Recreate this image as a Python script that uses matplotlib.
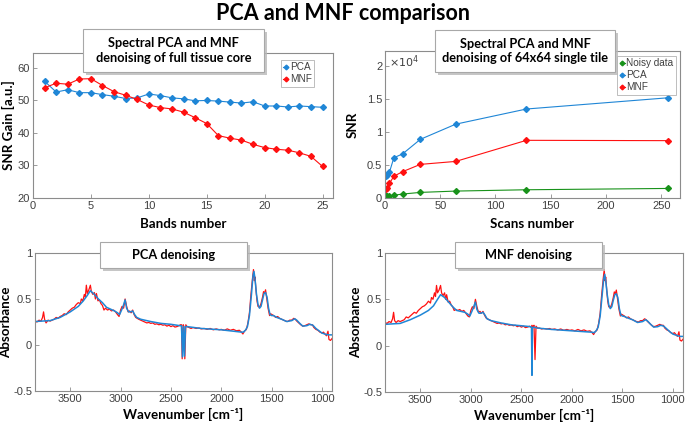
import matplotlib
matplotlib.use("Agg")
import matplotlib.pyplot as plt
from matplotlib.patches import Rectangle
from matplotlib.ticker import FuncFormatter, MultipleLocator

# ---------------- data ----------------
bands = list(range(1, 26))
pca_gain = [55.9, 52.6, 53.3, 52.4, 52.4, 51.8, 51.3, 50.6, 50.8, 52.0, 51.5, 50.8, 50.5, 49.9,
            50.0, 49.8, 49.5, 49.2, 49.6, 48.3, 48.3, 48.0, 48.3, 48.1, 47.9]
mnf_gain = [53.9, 55.3, 55.0, 56.6, 56.7, 54.6, 52.7, 51.6, 50.3, 48.6, 47.8, 47.4, 46.4, 44.7,
            42.9, 39.2, 38.4, 37.8, 36.5, 35.5, 35.0, 34.7, 33.9, 32.8, 29.7]

scans = [1, 2, 4, 8, 16, 32, 64, 128, 256]
snr_noisy = [250, 280, 320, 420, 600, 850, 1050, 1250, 1450]
snr_pca = [3300, 3500, 3900, 6100, 6700, 8900, 11200, 13500, 15200]
snr_mnf = [1350, 1550, 2200, 3300, 4000, 5100, 5550, 8750, 8700]

# PCA denoising panel
wn_pca_blue = [3850, 3780, 3700, 3600, 3500, 3420, 3370, 3330, 3300, 3260, 3220, 3180, 3140, 3100,
               3060, 3030, 3010, 2990, 2975, 2955, 2940, 2920, 2900, 2880, 2860, 2840, 2800, 2700,
               2600, 2500, 2410, 2395, 2385, 2375, 2365, 2355, 2340, 2200, 2000, 1800, 1780,
               1760, 1740, 1720, 1700, 1685, 1675, 1665, 1650, 1635, 1620, 1605, 1590, 1575,
               1560, 1545, 1530, 1515, 1500, 1480, 1450, 1400, 1350, 1300, 1270, 1250, 1220,
               1190, 1150, 1120, 1090, 1060, 1030, 1000, 960, 930, 900]
ab_pca_blue = [0.255, 0.26, 0.265, 0.30, 0.36, 0.42, 0.48, 0.54, 0.59, 0.55, 0.50, 0.46, 0.41, 0.39,
               0.37, 0.35, 0.33, 0.38, 0.42, 0.49, 0.40, 0.36, 0.36, 0.37, 0.33, 0.30, 0.28, 0.255,
               0.235, 0.225, 0.21, 0.21, -0.13, 0.20, -0.12, 0.20, 0.20, 0.18, 0.165, 0.14, 0.14,
               0.16, 0.20, 0.32, 0.55, 0.75, 0.80, 0.72, 0.55, 0.44, 0.40, 0.42, 0.49, 0.56,
               0.57, 0.52, 0.40, 0.33, 0.32, 0.32, 0.30, 0.28, 0.255, 0.265, 0.285, 0.27, 0.235,
               0.205, 0.21, 0.225, 0.215, 0.18, 0.155, 0.13, 0.115, 0.11, 0.11]
wn_pca_red = [3850, 3830, 3810, 3790, 3775, 3765, 3755, 3740, 3720, 3700, 3680, 3660, 3640, 3620,
              3600, 3580, 3560, 3540, 3520, 3500, 3480, 3460, 3440, 3420, 3400, 3390, 3375, 3360,
              3350, 3340, 3330, 3315, 3300, 3290, 3275, 3260, 3250, 3240, 3225, 3210, 3195, 3180,
              3165, 3150, 3130, 3110, 3090, 3070, 3050, 3030, 3015, 3000, 2985, 2970, 2955, 2940,
              2925, 2910, 2895, 2880, 2865, 2850, 2820, 2800, 2780, 2760, 2740, 2720, 2700, 2680,
              2660, 2640, 2620, 2600, 2580, 2560, 2540, 2520, 2500, 2480, 2460, 2440, 2420, 2405,
              2395, 2388, 2378, 2370, 2362, 2352, 2340, 2320, 2300, 2280, 2250, 2220, 2200, 2170,
              2140, 2110, 2080, 2050, 2020, 2000, 1970, 1940, 1910, 1880, 1850, 1820, 1800, 1785,
              1770, 1750, 1735, 1720, 1705, 1690, 1680, 1672, 1665, 1655, 1645, 1635, 1620, 1605,
              1590, 1580, 1570, 1560, 1550, 1535, 1520, 1510, 1495, 1480, 1460, 1440, 1420, 1400,
              1380, 1360, 1340, 1320, 1300, 1280, 1265, 1250, 1230, 1210, 1190, 1170, 1150, 1130,
              1110, 1095, 1080, 1060, 1040, 1020, 1000, 985, 970, 955, 940, 930, 915, 900]
ab_pca_red = [0.26, 0.25, 0.27, 0.26, 0.30, 0.36, 0.28, 0.24, 0.27, 0.26, 0.27, 0.28, 0.30, 0.29,
              0.31, 0.32, 0.34, 0.33, 0.36, 0.38, 0.40, 0.41, 0.44, 0.46, 0.45, 0.50, 0.48, 0.55,
              0.52, 0.65, 0.56, 0.60, 0.65, 0.58, 0.55, 0.57, 0.50, 0.56, 0.48, 0.49, 0.45, 0.43,
              0.38, 0.40, 0.38, 0.39, 0.37, 0.38, 0.36, 0.33, 0.31, 0.38, 0.42, 0.40, 0.50, 0.42,
              0.36, 0.37, 0.35, 0.38, 0.33, 0.30, 0.28, 0.27, 0.26, 0.25, 0.24, 0.245, 0.235, 0.24,
              0.225, 0.23, 0.22, 0.225, 0.215, 0.22, 0.205, 0.215, 0.20, 0.21, 0.195, 0.20, 0.21, 0.22,
              0.22, -0.15, 0.22, 0.20, -0.15, 0.22, 0.20, 0.19, 0.18, 0.19, 0.18, 0.185, 0.175, 0.18,
              0.17, 0.18, 0.165, 0.175, 0.165, 0.17, 0.16, 0.175, 0.16, 0.17, 0.155, 0.16, 0.14, 0.12,
              0.15, 0.17, 0.24, 0.35, 0.55, 0.72, 0.82, 0.70, 0.74, 0.60, 0.48, 0.42, 0.41, 0.45,
              0.52, 0.58, 0.56, 0.60, 0.52, 0.40, 0.32, 0.34, 0.33, 0.32, 0.30, 0.31, 0.29, 0.28,
              0.27, 0.26, 0.255, 0.27, 0.27, 0.29, 0.28, 0.26, 0.24, 0.22, 0.205, 0.21, 0.22, 0.23,
              0.22, 0.22, 0.19, 0.17, 0.16, 0.14, 0.13, 0.14, 0.12, 0.10, 0.15, 0.06, 0.05, 0.07]

# MNF denoising panel
wn_mnf_blue = [3850, 3780, 3700, 3600, 3500, 3420, 3370, 3330, 3300, 3260, 3220, 3180, 3140, 3100,
               3060, 3030, 3010, 2990, 2975, 2955, 2940, 2920, 2900, 2880, 2860, 2840, 2800, 2700,
               2600, 2500, 2410, 2400, 2395, 2390, 2380, 2340, 2200, 2000, 1800, 1780,
               1760, 1740, 1720, 1700, 1685, 1675, 1665, 1650, 1635, 1620, 1605, 1590, 1575,
               1560, 1545, 1530, 1515, 1500, 1480, 1450, 1400, 1350, 1300, 1270, 1250, 1220,
               1190, 1150, 1120, 1090, 1060, 1030, 1000, 960, 930, 900]
ab_mnf_blue = [0.23, 0.235, 0.24, 0.28, 0.33, 0.38, 0.43, 0.50, 0.55, 0.52, 0.47, 0.42, 0.38, 0.37,
               0.36, 0.34, 0.32, 0.37, 0.41, 0.47, 0.39, 0.35, 0.35, 0.36, 0.33, 0.29, 0.27, 0.245,
               0.225, 0.215, 0.205, 0.20, -0.32, 0.19, 0.20, 0.19, 0.175, 0.16, 0.145, 0.14,
               0.16, 0.20, 0.32, 0.55, 0.72, 0.77, 0.70, 0.55, 0.44, 0.40, 0.42, 0.49, 0.55,
               0.56, 0.52, 0.40, 0.33, 0.32, 0.315, 0.30, 0.28, 0.25, 0.26, 0.28, 0.265, 0.23,
               0.20, 0.205, 0.22, 0.21, 0.18, 0.15, 0.125, 0.11, 0.10, 0.10]
wn_mnf_red = [3850, 3830, 3810, 3790, 3775, 3765, 3755, 3740, 3720, 3700, 3680, 3660, 3640, 3620,
              3600, 3580, 3560, 3540, 3520, 3500, 3480, 3460, 3440, 3420, 3400, 3390, 3375, 3360,
              3350, 3340, 3330, 3315, 3300, 3290, 3275, 3260, 3250, 3240, 3225, 3210, 3195, 3180,
              3165, 3150, 3130, 3110, 3090, 3070, 3050, 3030, 3015, 3000, 2985, 2970, 2955, 2940,
              2925, 2910, 2895, 2880, 2865, 2850, 2820, 2800, 2780, 2760, 2740, 2720, 2700, 2680,
              2660, 2640, 2620, 2600, 2580, 2560, 2540, 2520, 2500, 2480, 2460, 2440, 2420, 2405,
              2395, 2385, 2375, 2365, 2355, 2340, 2320, 2300, 2280, 2250, 2220, 2200, 2170,
              2140, 2110, 2080, 2050, 2020, 2000, 1970, 1940, 1910, 1880, 1850, 1820, 1800, 1785,
              1770, 1750, 1735, 1720, 1705, 1690, 1680, 1672, 1665, 1655, 1645, 1635, 1620, 1605,
              1590, 1580, 1570, 1560, 1550, 1535, 1520, 1510, 1495, 1480, 1460, 1440, 1420, 1400,
              1380, 1360, 1340, 1320, 1300, 1280, 1265, 1250, 1230, 1210, 1190, 1170, 1150, 1130,
              1110, 1095, 1080, 1060, 1040, 1020, 1000, 985, 970, 955, 940, 930, 915, 900]
ab_mnf_red = [0.25, 0.24, 0.26, 0.25, 0.29, 0.36, 0.27, 0.25, 0.27, 0.26, 0.27, 0.28, 0.31, 0.30,
              0.32, 0.34, 0.36, 0.35, 0.38, 0.40, 0.42, 0.43, 0.45, 0.48, 0.46, 0.52, 0.50, 0.57,
              0.53, 0.65, 0.57, 0.60, 0.65, 0.57, 0.54, 0.57, 0.50, 0.55, 0.47, 0.48, 0.44, 0.42,
              0.38, 0.39, 0.38, 0.39, 0.37, 0.38, 0.35, 0.32, 0.31, 0.38, 0.42, 0.40, 0.50, 0.42,
              0.36, 0.37, 0.35, 0.37, 0.33, 0.30, 0.28, 0.27, 0.26, 0.25, 0.24, 0.245, 0.235, 0.24,
              0.225, 0.23, 0.22, 0.225, 0.215, 0.22, 0.205, 0.215, 0.20, 0.21, 0.195, 0.20, 0.21, 0.20,
              0.22, 0.20, 0.22, -0.15, 0.21, 0.19, 0.19, 0.18, 0.185, 0.18, 0.185, 0.175, 0.18,
              0.17, 0.18, 0.165, 0.175, 0.165, 0.17, 0.16, 0.175, 0.16, 0.17, 0.155, 0.16, 0.14, 0.12,
              0.15, 0.17, 0.24, 0.35, 0.55, 0.72, 0.82, 0.70, 0.74, 0.60, 0.48, 0.42, 0.41, 0.45,
              0.52, 0.58, 0.56, 0.60, 0.52, 0.40, 0.32, 0.34, 0.33, 0.32, 0.30, 0.31, 0.29, 0.28,
              0.27, 0.26, 0.255, 0.27, 0.27, 0.29, 0.28, 0.26, 0.24, 0.22, 0.205, 0.21, 0.22, 0.23,
              0.22, 0.22, 0.19, 0.17, 0.16, 0.14, 0.13, 0.14, 0.12, 0.10, 0.15, 0.06, 0.05, 0.07]

# ---------------- style ----------------
BLUE = "#1f86d6"
RED = "#ff1010"
GREEN = "#18921a"
TICKC = "#404040"
SPINE = "#8c8c8c"
LBL = ["Lato", "DejaVu Sans"]
TK = ["Liberation Sans", "DejaVu Sans"]
LFS = 9.6

W, H = 685, 428
fig = plt.figure(figsize=(W / 100, H / 100), dpi=100)


def ax_at(l, t, r, b):
    return fig.add_axes([l / W, 1 - b / H, (r - l) / W, (b - t) / H])


def style(ax):
    for s in ax.spines.values():
        s.set_color(SPINE)
        s.set_linewidth(0.8)
    ax.tick_params(direction="in", length=3, width=0.6, color=SPINE, labelcolor=TICKC,
                   labelsize=8, pad=2)
    for lab in ax.get_xticklabels() + ax.get_yticklabels():
        lab.set_family(TK)


def box(x0, y0, x1, y1, lines, fs=9.2):
    shadow = Rectangle(((x0 + 3) / W, 1 - (y1 + 3) / H), (x1 - x0) / W, (y1 - y0) / H,
                       transform=fig.transFigure, facecolor="#b8b8b8", edgecolor="none",
                       alpha=0.8, zorder=5)
    rect = Rectangle((x0 / W, 1 - y1 / H), (x1 - x0) / W, (y1 - y0) / H,
                     transform=fig.transFigure, facecolor="white", edgecolor="#a8a8a8",
                     linewidth=0.8, zorder=6)
    fig.add_artist(shadow)
    fig.add_artist(rect)
    fig.text((x0 + x1) / 2 / W, 1 - (y0 + y1) / 2 / H, lines, ha="center", va="center",
             fontsize=fs, fontweight="bold", family=LBL, zorder=7, linespacing=1.25)


def legend(ax, anchor):
    leg = ax.legend(loc="upper right", bbox_to_anchor=anchor,
                    prop={"family": TK, "size": 7.2}, frameon=True, fancybox=False,
                    handlelength=0.5, handletextpad=0.15, borderpad=0.25, labelspacing=0.2,
                    borderaxespad=0, markerscale=0.8)
    leg.get_frame().set_edgecolor("#a0a0a0")
    leg.get_frame().set_linewidth(0.6)
    for t in leg.get_texts():
        t.set_color(TICKC)


# ---- top left ----
ax1 = ax_at(33, 53, 333, 198)
ax1.plot(bands, pca_gain, "-D", color=BLUE, markersize=3.0, linewidth=0.8, label="PCA")
ax1.plot(bands, mnf_gain, "-D", color=RED, markersize=3.0, linewidth=0.8, label="MNF")
ax1.set_xlim(0, 25.9)
ax1.set_ylim(20, 64.6)
ax1.xaxis.set_major_locator(MultipleLocator(5))
ax1.yaxis.set_major_locator(MultipleLocator(10))
style(ax1)
ax1.set_xlabel("Bands number", fontsize=LFS, fontweight="bold", family=LBL, labelpad=5)
ax1.set_ylabel("SNR Gain [a.u.]", fontsize=LFS, fontweight="bold", family=LBL, labelpad=2)
legend(ax1, (0.937, 0.952))

# ---- top right ----
ax2 = ax_at(385, 51, 680, 198)
ax2.plot(scans, snr_noisy, "-D", color=GREEN, markersize=3.0, linewidth=0.8, label="Noisy data")
ax2.plot(scans, snr_pca, "-D", color=BLUE, markersize=3.0, linewidth=0.8, label="PCA")
ax2.plot(scans, snr_mnf, "-D", color=RED, markersize=3.0, linewidth=0.8, label="MNF")
ax2.set_xlim(0, 267)
ax2.set_ylim(0, 22300)
ax2.xaxis.set_major_locator(MultipleLocator(50))
ax2.yaxis.set_major_locator(MultipleLocator(5000))
ax2.yaxis.set_major_formatter(FuncFormatter(lambda v, p: "%g" % (v / 1e4)))
style(ax2)
ax2.text(0.012, 0.985, r"$\times10^4$", transform=ax2.transAxes, ha="left", va="top",
         fontsize=8, color=TICKC, family=TK)
ax2.set_xlabel("Scans number", fontsize=LFS, fontweight="bold", family=LBL, labelpad=5)
ax2.set_ylabel("SNR", fontsize=LFS, fontweight="bold", family=LBL, labelpad=6)
legend(ax2, (0.986, 0.966))

# ---- bottom panels ----
for (l, t, r, b), wr, ar, wb, ab in [
    ((35, 253, 332, 391), wn_pca_red, ab_pca_red, wn_pca_blue, ab_pca_blue),
    ((385, 253, 683, 392), wn_mnf_red, ab_mnf_red, wn_mnf_blue, ab_mnf_blue),
]:
    ax = ax_at(l, t, r, b)
    ax.plot(wr, ar, color=RED, linewidth=0.9)
    ax.plot(wb, ab, color=BLUE, linewidth=1.1)
    ax.set_xlim(3850, 900)
    ax.set_ylim(-0.5, 1)
    ax.xaxis.set_major_locator(MultipleLocator(500))
    ax.yaxis.set_major_locator(MultipleLocator(0.5))
    ax.yaxis.set_major_formatter(FuncFormatter(lambda v, p: "%g" % v))
    style(ax)
    ax.set_xlabel("Wavenumber [cm\u207b\u00b9]", fontsize=LFS, fontweight="bold",
                  family=LBL, labelpad=3)
    ax.set_ylabel("Absorbance", fontsize=LFS, fontweight="bold", family=LBL, labelpad=1)

# ---- boxes & title ----
box(83, 29, 264, 72, "Spectral PCA and MNF\ndenoising of full tissue core")
box(435, 30, 615, 72, "Spectral PCA and MNF\ndenoising of 64x64 single tile")
box(100, 242, 247, 268, "PCA denoising")
box(455, 242, 602, 268, "MNF denoising")

fig.text(0.5, 1 - 13 / H, "PCA and MNF comparison", ha="center", va="center",
         fontsize=15.5, fontweight="bold", family=LBL)

fig.savefig("out.png", dpi=100)
